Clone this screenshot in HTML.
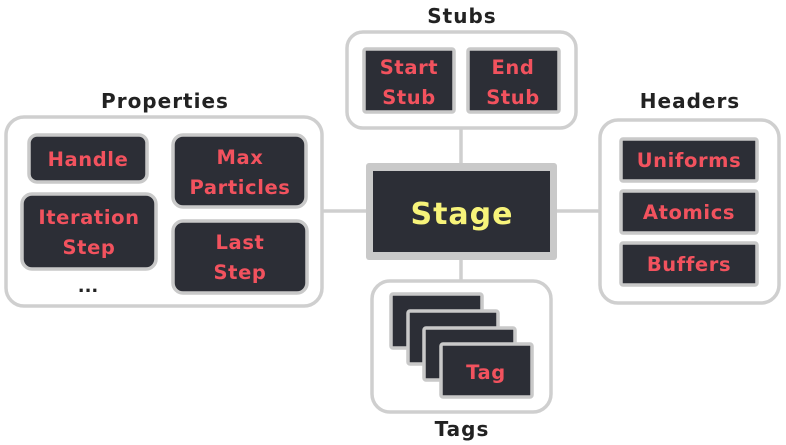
<!DOCTYPE html>
<html><head><meta charset="utf-8"><style>
html,body{margin:0;padding:0;background:#fff;}
svg{display:block;font-family:"DejaVu Sans","Liberation Sans",sans-serif;}
.grp{fill:#fff;stroke:#cfcfcf;stroke-width:3.5;}
.box{fill:#2c2e36;stroke:#c9c9c9;stroke-width:3.5;}
.lbl{fill:#222;font-size:20px;font-weight:bold;letter-spacing:1px;text-anchor:middle;}
.t{fill:#f2525e;font-size:19.5px;font-weight:bold;letter-spacing:0.6px;text-anchor:middle;}
.ln{stroke:#cfcfcf;stroke-width:3.5;}
</style></head><body>
<svg width="786" height="445" viewBox="0 0 786 445">
<g>
<line class="ln" x1="322" y1="211" x2="366" y2="211"/>
<line class="ln" x1="557" y1="211" x2="600" y2="211"/>
<line class="ln" x1="461" y1="128" x2="461" y2="163"/>
<line class="ln" x1="461" y1="260" x2="461" y2="280"/>
</g>
<g>
<text class="lbl" x="462" y="23">Stubs</text>
<rect class="grp" x="347" y="32" width="229" height="96" rx="16"/>
<g><rect class="box" x="364" y="49" width="90" height="63" rx="2"/><text class="t" x="409" y="74">Start</text><text class="t" x="409" y="104">Stub</text></g>
<g><rect class="box" x="468" y="49" width="91" height="63" rx="2"/><text class="t" x="513" y="74">End</text><text class="t" x="513" y="104">Stub</text></g>
</g>
<g>
<text class="lbl" x="165" y="108">Properties</text>
<rect class="grp" x="6" y="117" width="316" height="189" rx="18"/>
<g><rect class="box" x="29" y="135" width="118" height="47" rx="8"/><text class="t" x="88" y="166">Handle</text></g>
<g><rect class="box" x="173" y="135" width="133" height="72" rx="10"/><text class="t" x="240" y="164">Max</text><text class="t" x="240" y="194">Particles</text></g>
<g><rect class="box" x="22" y="194" width="134" height="75" rx="10"/><text class="t" x="89" y="224">Iteration</text><text class="t" x="89" y="254">Step</text></g>
<g><rect class="box" x="173" y="221" width="134" height="72" rx="10"/><text class="t" x="240" y="249">Last</text><text class="t" x="240" y="279">Step</text></g>
<text x="88" y="292" style="font-size:18px;font-weight:bold;text-anchor:middle;fill:#222">...</text>
</g>
<g>
<rect x="366" y="163" width="191" height="97" rx="3" fill="#c9c9c9"/>
<rect x="373" y="171" width="177" height="81" fill="#2c2e36"/>
<text x="462" y="224" style="fill:#f7f37a;font-size:30px;font-weight:bold;letter-spacing:1px;text-anchor:middle">Stage</text>
</g>
<g>
<text class="lbl" x="690" y="108">Headers</text>
<rect class="grp" x="600" y="120" width="179" height="183" rx="18"/>
<g><rect class="box" x="621" y="139" width="136" height="42" rx="2"/><text class="t" x="689" y="167">Uniforms</text></g>
<g><rect class="box" x="621" y="191" width="136" height="42" rx="2"/><text class="t" x="689" y="219">Atomics</text></g>
<g><rect class="box" x="621" y="243" width="136" height="42" rx="2"/><text class="t" x="689" y="271">Buffers</text></g>
</g>
<g>
<rect class="grp" x="372" y="281" width="179" height="131" rx="18"/>
<rect class="box" x="391" y="294" width="91" height="54" rx="2"/>
<rect class="box" x="408" y="311" width="90" height="53" rx="2"/>
<rect class="box" x="424" y="328" width="91" height="52" rx="2"/>
<g><rect class="box" x="441" y="344" width="91" height="53" rx="2"/><text class="t" x="486" y="379">Tag</text></g>
<text class="lbl" x="462" y="436">Tags</text>
</g>
</svg>
</body></html>
